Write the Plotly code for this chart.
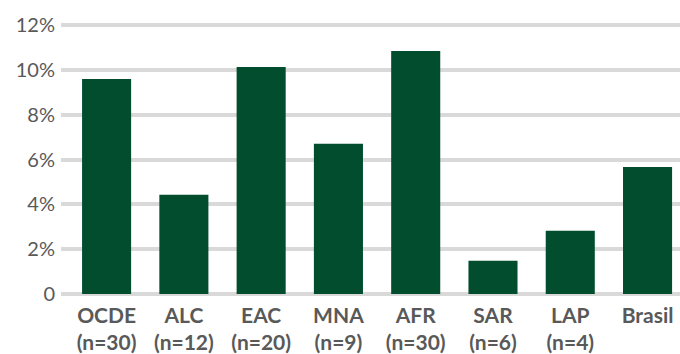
import plotly.graph_objects as go

# Regional values (share, as fractions)
regions = ["OCDE", "ALC", "EAC", "MNA", "AFR", "SAR", "LAP", "Brasil"]
sample_sizes = ["(n=30)", "(n=12)", "(n=20)", "(n=9)", "(n=30)", "(n=6)", "(n=4)", ""]
values = [0.0961, 0.0444, 0.1014, 0.0671, 0.1086, 0.0149, 0.0283, 0.0568]

y_tickvals = [0, 0.02, 0.04, 0.06, 0.08, 0.10, 0.12]
y_ticktext = ["0", "2%", "4%", "6%", "8%", "10%", "12%"]

bar_color = "#034d2f"
grid_color = "#d9d9d9"
text_color = "#595959"

x_labels = [f"{r}<br>{n}" if n else r for r, n in zip(regions, sample_sizes)]
x_pos = list(range(len(regions)))

fig = go.Figure(
    go.Bar(
        x=x_pos,
        y=values,
        width=0.635,
        marker=dict(color=bar_color, line=dict(width=0)),
        hoverinfo="skip",
    )
)

fig.update_layout(
    width=680,
    height=354,
    margin=dict(l=61, r=0, t=11.5, b=60),
    paper_bgcolor="white",
    plot_bgcolor="white",
    showlegend=False,
    font=dict(family="Lato", color=text_color),
    xaxis=dict(
        range=[-0.59, 7.42],
        tickmode="array",
        tickvals=x_pos,
        ticktext=x_labels,
        tickfont=dict(size=21, family="Lato", weight="bold", color=text_color),
        showgrid=False,
        showline=False,
        zeroline=False,
        ticks="",
        ticklabelstandoff=7,
    ),
    yaxis=dict(
        range=[0, 0.126],
        tickmode="array",
        tickvals=y_tickvals,
        ticktext=y_ticktext,
        tickfont=dict(size=20, family="Lato", color=text_color),
        showgrid=True,
        gridcolor=grid_color,
        gridwidth=4,
        zeroline=True,
        zerolinecolor=grid_color,
        zerolinewidth=4,
        showline=False,
        ticks="",
        ticklabelstandoff=5,
    ),
)

fig.write_html("out.html")
